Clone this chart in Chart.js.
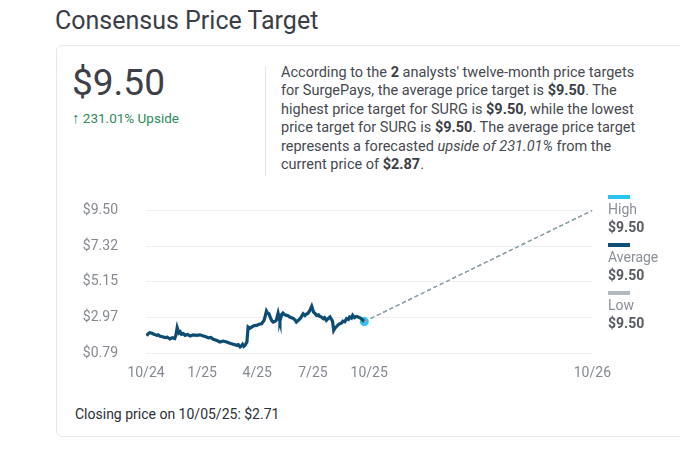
<!DOCTYPE html>
<html>
<head>
<meta charset="utf-8">
<script src="https://cdn.jsdelivr.net/npm/chart.js@4.4.1/dist/chart.umd.min.js"></script>
<style>
  body { margin: 0; width: 680px; height: 461px; overflow: hidden; background: #fff; font-family: Roboto, "Noto Sans", sans-serif; position: relative; }
  .abs { position: absolute; }
  #title { left: 55px; top: 6px; font-size: 25px; color: #3b3e46; margin: 0; font-weight: 400; }
  #card { left: 56px; top: 45px; width: 660px; height: 390px; border: 1px solid #e7e8eb; border-radius: 6px; }
  #bigPrice { left: 72px; top: 64px; font-size: 37px; color: #3d4048; line-height: 1; }
  #upside { left: 72px; top: 109px; font-size: 13.5px; color: #2c8a5b; }
  #upside span { font-size: 15px; font-weight: 700; }
  #divider { left: 265px; top: 66px; width: 1px; height: 110px; background: #e6e7ea; }
  #desc { left: 281px; top: 64px; font-size: 14.5px; line-height: 18.4px; color: #464950; }
  #desc b { color: #3b3e46; }
  #chartBox { left: 60px; top: 202px; width: 551px; height: 181px; }
  #legend { left: 608px; top: 195px; }
  .lg-bar { width: 22px; height: 4px; }
  .lg-label { font-size: 14px; line-height: 18px; color: #8b8f97; margin-top: 1px; }
  .lg-value { font-size: 14px; line-height: 18px; color: #575a61; font-weight: 700; margin-bottom: 7px; }
  #closing { left: 75px; top: 406px; font-size: 14px; color: #2d2f35; }
</style>
</head>
<body>
<h1 id="title" class="abs">Consensus Price Target</h1>
<div id="card" class="abs"></div>
<div id="bigPrice" class="abs">$9.50</div>
<div id="upside" class="abs"><span>&#8593;</span> 231.01% Upside</div>
<div id="divider" class="abs"></div>
<div id="desc" class="abs">
According to the <b>2</b> analysts' twelve-month price targets<br>
for SurgePays, the average price target is <b>$9.50</b>. The<br>
highest price target for SURG is <b>$9.50</b>, while the lowest<br>
price target for SURG is <b>$9.50</b>. The average price target<br>
represents a forecasted <i>upside of 231.01%</i> from the<br>
current price of <b>$2.87</b>.
</div>
<div id="chartBox" class="abs"><canvas id="priceChart"></canvas></div>
<div id="legend" class="abs"></div>
<div id="closing" class="abs">Closing price on 10/05/25: $2.71</div>

<script>
// days counted from 10/01/24
const priceDays = [1, 3, 4, 6, 9, 12, 15, 18, 20, 23, 27, 31, 35, 39, 43, 47, 49, 51, 53, 54,
  56, 58, 61, 64, 68, 72, 77, 83, 88, 94, 98, 102, 106, 110, 115, 121, 126, 132, 136, 140,
  144, 148, 151, 154, 156, 158, 160, 162, 165, 167, 170, 173, 177, 181, 185, 189, 193, 195, 197, 199,
  201, 204, 206, 208, 211, 213, 216, 218, 219, 222, 224, 227, 230, 233, 235, 238, 241, 244, 246, 249,
  252, 254, 257, 260, 262, 265, 268, 271, 274, 277, 279, 282, 284, 287, 290, 292, 295, 298, 301, 303,
  305, 307, 309, 311, 314, 317, 320, 322, 325, 328, 331, 333, 336, 338, 341, 344, 347, 350, 352, 357];
const prices = [1.83, 1.95, 1.97, 2.03, 2.01, 1.95, 1.91, 1.86, 1.90, 1.81, 1.78, 1.73, 1.76, 1.65, 1.72, 1.67, 1.90, 2.34, 2.10, 2.01,
  2.08, 1.93, 1.97, 1.87, 1.92, 1.83, 1.89, 1.87, 1.90, 1.83, 1.78, 1.71, 1.74, 1.63, 1.57, 1.46, 1.52, 1.46, 1.40, 1.36,
  1.31, 1.26, 1.30, 1.16, 1.22, 1.32, 1.20, 1.26, 1.46, 2.38, 2.30, 2.38, 2.46, 2.48, 2.55, 2.58, 2.78, 3.05, 3.35, 3.22,
  3.19, 2.89, 2.75, 2.68, 2.72, 2.78, 3.23, 2.90, 2.74, 3.15, 3.23, 3.12, 3.09, 3.05, 2.99, 2.95, 2.89, 2.80, 2.68, 2.78,
  2.89, 3.00, 3.19, 3.08, 3.15, 3.22, 3.39, 3.64, 3.29, 3.18, 3.09, 3.12, 3.03, 2.98, 2.89, 2.95, 2.78, 2.90, 2.99, 2.85,
  2.74, 2.17, 2.30, 2.38, 2.50, 2.58, 2.62, 2.74, 2.70, 2.89, 2.84, 2.99, 2.92, 3.09, 2.95, 3.02, 2.99, 2.93, 2.89, 2.71];

const lastDay = 357;
const lastClose = 2.71;
const targetDay = 730;

const targetLabels = ["High", "Average", "Low"];
const targetValues = [9.50, 9.50, 9.50];
const targetColors = ["#2bc3ef", "#0e4f76", "#b3b7bf"];

const yTicks = [0.79, 2.97, 5.15, 7.32, 9.50];
const xTickDays = [0, 92, 182, 273, 365, 730];
const xTickLabels = ["10/24", "1/25", "4/25", "7/25", "10/25", "10/26"];

// legend on the right
let legendHtml = "";
for (let i = 0; i < targetLabels.length; i++) {
  legendHtml += '<div class="lg-bar" style="background:' + targetColors[i] + '"></div>' +
    '<div class="lg-label">' + targetLabels[i] + '</div>' +
    '<div class="lg-value">$' + targetValues[i].toFixed(2) + '</div>';
}
document.getElementById("legend").innerHTML = legendHtml;

let pricePoints = [];
for (let i = 0; i < priceDays.length; i++) {
  pricePoints.push({ x: priceDays[i], y: prices[i] });
}

let targetSets = [];
for (let i = targetValues.length - 1; i >= 0; i--) {
  targetSets.push({
    data: [{ x: lastDay, y: lastClose }, { x: targetDay, y: targetValues[i] }],
    borderColor: "#8ea2ac",
    borderWidth: 1.2,
    borderDash: [4, 3],
    pointRadius: 0,
  });
}

new Chart(document.getElementById("priceChart"), {
  type: "line",
  data: {
    datasets: [
      ...targetSets,
      {
        data: pricePoints,
        borderColor: "#0d4d74",
        borderWidth: 3.2,
        pointRadius: 0,
        tension: 0,
      },
      {
        data: [{ x: lastDay, y: lastClose }],
        pointRadius: 4.5,
        pointBackgroundColor: "#2bc3ef",
        pointBorderWidth: 0,
        showLine: false,
      },
    ],
  },
  options: {
    responsive: true,
    maintainAspectRatio: false,
    animation: false,
    layout: { padding: 0 },
    plugins: { legend: { display: false }, tooltip: { enabled: false } },
    scales: {
      x: {
        type: "linear",
        min: 0,
        max: targetDay,
        afterBuildTicks: (axis) => { axis.ticks = xTickDays.map((v) => ({ value: v })); },
        afterFit: (axis) => { axis.height = 30; },
        // tick length used only as spacing, ticks.padding would also pad the chart area
        grid: { display: false, drawTicks: true, tickLength: 12, tickColor: "transparent" },
        border: { display: false },
        ticks: {
          padding: 0,
          color: "#858991",
          font: { family: "Roboto", size: 14 },
          maxRotation: 0,
          callback: (v) => xTickLabels[xTickDays.indexOf(v)],
        },
      },
      y: {
        min: yTicks[0],
        max: yTicks[yTicks.length - 1],
        afterBuildTicks: (axis) => { axis.ticks = yTicks.map((v) => ({ value: v })); },
        afterFit: (axis) => { axis.width = 86; },
        grid: { color: "#eef0f2", drawTicks: true, tickLength: 28, tickColor: "transparent" },
        border: { display: false },
        ticks: {
          padding: 0,
          color: "#858991",
          font: { family: "Roboto", size: 14 },
          callback: (v) => "$" + v.toFixed(2),
        },
      },
    },
  },
});
</script>
</body>
</html>
